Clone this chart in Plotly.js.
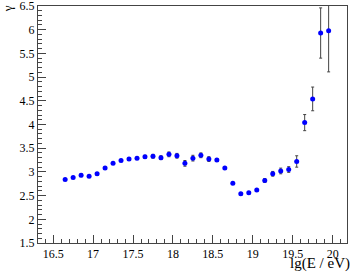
<!DOCTYPE html>
<html><head><meta charset="utf-8">
<script src="https://cdn.plot.ly/plotly-3.0.1.min.js"></script>
<style>html,body{margin:0;padding:0;background:#fff}#c{width:354px;height:273px}</style>
</head><body><div id="c"></div>
<script>
var lgE = [16.65,16.75,16.85,16.95,17.05,17.15,17.25,17.35,17.45,17.55,17.65,17.75,17.85,17.95,18.05,18.15,18.25,18.35,18.45,18.55,18.65,18.75,18.85,18.95,19.05,19.15,19.25,19.35,19.45,19.55,19.65,19.75,19.85,19.95];
var gamma = [2.84,2.88,2.93,2.91,2.96,3.08,3.18,3.24,3.27,3.29,3.32,3.33,3.30,3.37,3.34,3.18,3.29,3.35,3.27,3.25,3.08,2.76,2.54,2.56,2.62,2.82,2.96,3.02,3.05,3.22,4.04,4.54,5.93,5.98];
var gammaErr = [0.02,0.02,0.03,0.02,0.02,0.02,0.02,0.02,0.02,0.02,0.03,0.04,0.04,0.05,0.05,0.06,0.06,0.05,0.05,0.03,0.02,0.02,0.02,0.02,0.02,0.04,0.05,0.06,0.06,0.12,0.17,0.25,0.53,0.87];
var xTicks = [16.5,17,17.5,18,18.5,19,19.5,20];
var yTicks = [1.5,2,2.5,3,3.5,4,4.5,5,5.5,6,6.5];

var fam = 'Liberation Serif';
Plotly.newPlot('c', [{
  x: lgE, y: gamma, type:'scatter', mode:'markers',
  marker:{color:'#0000ff', size:5},
  error_y:{type:'data', array:gammaErr, visible:true, color:'#444', thickness:1, width:1.5},
  cliponaxis:true
}], {
  width:354, height:273,
  margin:{l:38, r:7, t:6, b:30},
  paper_bgcolor:'#fff', plot_bgcolor:'#fff',
  showlegend:false,
  font: {family:fam, size:12, color:'#000'},
  xaxis:{range:[16.31,20.18], tickvals:xTicks, ticktext:xTicks.map(String),
    ticks:'inside', ticklen:8, tickcolor:'#444', tickwidth:1, ticklabeloverflow:'allow',
    minor:{dtick:0.1, tick0:16.5, ticks:'inside', ticklen:4, tickcolor:'#444', showgrid:false},
    showline:true, linecolor:'#444', linewidth:1, mirror:true, showgrid:false, zeroline:false,
    tickfont:{family:fam, size:12, color:'#000'}},
  yaxis:{range:[1.5,6.5], tickvals:yTicks, ticktext:yTicks.map(String),
    ticks:'inside', ticklen:8, tickcolor:'#444', tickwidth:1, ticklabeloverflow:'allow',
    minor:{dtick:0.1, tick0:1.5, ticks:'inside', ticklen:4, tickcolor:'#444', showgrid:false},
    showline:true, linecolor:'#444', linewidth:1, mirror:true, showgrid:false, zeroline:false,
    tickfont:{family:fam, size:12, color:'#000'}},
  annotations:[
    {text:'lg(E / eV)', xref:'paper', yref:'paper', x:1.015, y:-0.13, xanchor:'right', yanchor:'bottom', showarrow:false,
     font:{family:fam, size:15, color:'#000'}},
    {text:'γ', xref:'paper', yref:'paper', x:-0.1, y:1.01, xanchor:'center', yanchor:'top', textangle:-90, showarrow:false,
     font:{family:fam, size:13, color:'#000'}}
  ]
}, {staticPlot:true, displayModeBar:false});
</script></body></html>
